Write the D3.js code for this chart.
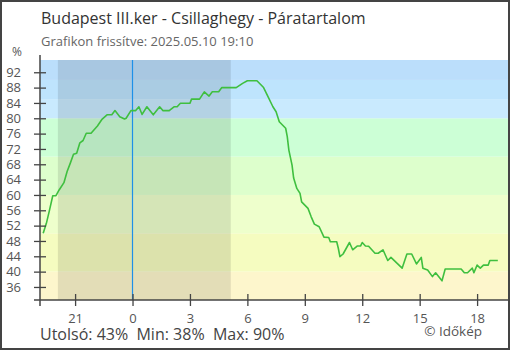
<!DOCTYPE html>
<html><head><meta charset="utf-8">
<script src="https://cdn.jsdelivr.net/npm/d3@7"></script>
<style>
html,body{margin:0;padding:0;background:#fff;}
svg{display:block;font-family:"Open Sans",sans-serif;}
</style></head>
<body><svg id="c" width="510" height="350"></svg>
<script>
const times = ["2025-05-09 19:20","2025-05-09 19:30","2025-05-09 19:40","2025-05-09 19:50","2025-05-09 20:00","2025-05-09 20:10","2025-05-09 20:25","2025-05-09 20:35","2025-05-09 20:45","2025-05-09 20:55","2025-05-09 21:05","2025-05-09 21:15","2025-05-09 21:25","2025-05-09 21:35","2025-05-09 21:50","2025-05-09 22:10","2025-05-09 22:25","2025-05-09 22:40","2025-05-09 22:55","2025-05-09 23:05","2025-05-09 23:20","2025-05-09 23:35","2025-05-09 23:40","2025-05-09 23:55",
"2025-05-10 00:10","2025-05-10 00:20","2025-05-10 00:30","2025-05-10 00:45","2025-05-10 01:05","2025-05-10 01:25","2025-05-10 01:35","2025-05-10 01:55","2025-05-10 02:10","2025-05-10 02:20","2025-05-10 02:30","2025-05-10 03:00","2025-05-10 03:05","2025-05-10 03:30","2025-05-10 03:45","2025-05-10 04:00","2025-05-10 04:10","2025-05-10 04:30","2025-05-10 04:40","2025-05-10 05:25","2025-05-10 05:45","2025-05-10 06:00","2025-05-10 06:30","2025-05-10 06:50","2025-05-10 07:05","2025-05-10 07:20","2025-05-10 07:30","2025-05-10 07:40","2025-05-10 08:00","2025-05-10 08:05","2025-05-10 08:10","2025-05-10 08:20","2025-05-10 08:25","2025-05-10 08:35","2025-05-10 08:45","2025-05-10 08:50","2025-05-10 09:10","2025-05-10 09:20","2025-05-10 09:30","2025-05-10 09:45","2025-05-10 10:00","2025-05-10 10:15","2025-05-10 10:20","2025-05-10 10:40","2025-05-10 10:45","2025-05-10 10:50","2025-05-10 11:00","2025-05-10 11:20","2025-05-10 11:30","2025-05-10 11:45","2025-05-10 11:55","2025-05-10 12:00","2025-05-10 12:10","2025-05-10 12:20","2025-05-10 12:40","2025-05-10 12:50","2025-05-10 13:05","2025-05-10 13:20","2025-05-10 13:30","2025-05-10 14:05","2025-05-10 14:20","2025-05-10 14:35","2025-05-10 14:50","2025-05-10 15:05","2025-05-10 15:10","2025-05-10 15:25","2025-05-10 15:40","2025-05-10 15:50","2025-05-10 16:10","2025-05-10 16:20","2025-05-10 17:10","2025-05-10 17:20","2025-05-10 17:30","2025-05-10 17:45","2025-05-10 17:50","2025-05-10 18:00","2025-05-10 18:10","2025-05-10 18:20","2025-05-10 18:35","2025-05-10 18:40","2025-05-10 19:05"];
const humidity = [50.0,52.6,56.1,59.8,59.8,61.3,63.2,66.1,68.3,70.6,70.9,73.6,74.2,76.1,76.1,78.0,79.8,80.9,80.9,82.0,80.4,79.8,80.0,82.0,
82.0,83.0,81.0,83.0,80.9,83.0,82.0,82.0,83.0,83.0,83.9,83.9,85.0,85.0,86.9,85.8,86.9,86.9,88.0,88.0,89.1,89.8,89.8,88.1,85.6,83.0,81.7,79.1,77.4,75.2,71.7,67.8,64.4,61.7,60.4,58.2,56.5,54.3,52.4,51.7,49.0,48.9,47.8,47.8,46.1,43.9,44.6,47.6,45.7,46.7,46.7,47.6,46.7,46.6,44.8,44.8,45.7,42.9,43.7,40.9,44.6,44.6,42.0,43.7,40.9,40.4,38.7,39.7,37.6,40.7,40.7,39.7,39.7,40.9,39.7,41.7,40.9,41.7,41.7,42.9,42.9];
const yTicks = [36,40,44,48,52,56,60,64,68,72,76,80,84,88,92];
const xTickTimes = ["2025-05-09 21:00","2025-05-10 00:00","2025-05-10 03:00","2025-05-10 06:00","2025-05-10 09:00","2025-05-10 12:00","2025-05-10 15:00","2025-05-10 18:00"];
const bandEdges = [32.6,40,50,60,70,80,85,90,95.2];
const bandColors = ["#fdf6cc","#f5fcc0","#eeffcc","#ddffcc","#ccffd6","#c9eafe","#bee4fd","#bbdefb"];
const nightSpan = ["2025-05-09 20:06","2025-05-10 05:08"];
const nowMark = "2025-05-10 00:00";
const xDomain = ["2025-05-09 19:10","2025-05-10 19:40"];
const title = "Budapest III.ker - Csillaghegy - Páratartalom";
const subtitle = "Grafikon frissítve: 2025.05.10 19:10";

const parse = d3.timeParse("%Y-%m-%d %H:%M");
const data = times.map((t,i)=>({t:parse(t), v:humidity[i]}));
const svg = d3.select("#c");
const L=40, R=509, T=60, B=300;
const x = d3.scaleTime().domain(xDomain.map(parse)).range([L,R]);
const y = d3.scaleLinear().domain([32.6,95.2]).range([B,T]);

// bands
svg.append("g").selectAll("rect").data(bandColors).join("rect")
  .attr("x",L).attr("width",R-L)
  .attr("y",(c,i)=>y(bandEdges[i+1])).attr("height",(c,i)=>y(bandEdges[i])-y(bandEdges[i+1]))
  .attr("fill",c=>c);
// night
svg.append("rect").attr("x",x(parse(nightSpan[0]))).attr("width",x(parse(nightSpan[1]))-x(parse(nightSpan[0])))
  .attr("y",T).attr("height",B-T).attr("fill","#000").attr("fill-opacity",0.1);
// midnight line
const mx0 = Math.round(x(parse(nowMark)))-0.5;
svg.append("line").attr("x1",mx0).attr("x2",mx0)
  .attr("y1",T).attr("y2",B).attr("stroke","#1e90e8").attr("stroke-width",1.2);

// line
svg.append("path").datum(data)
  .attr("d",d3.line().x(d=>x(d.t)).y(d=>y(d.v)))
  .attr("fill","none").attr("stroke","#3fbf3f").attr("stroke-width",1.6).attr("stroke-linejoin","round");

// axes
const axCol="#444";
const yAxis = svg.append("g").attr("transform",`translate(${L},0)`)
  .call(d3.axisLeft(y).tickValues(yTicks).tickSize(6).tickPadding(13));
yAxis.select(".domain").remove();
yAxis.selectAll(".tick line").attr("x1",-6).attr("x2",6).attr("stroke",axCol).attr("stroke-width",1.3);
yAxis.selectAll(".tick text").attr("fill","#555").style("font-size","13px").style("font-family","'Open Sans',sans-serif");
svg.append("line").attr("x1",L).attr("x2",L).attr("y1",55).attr("y2",306).attr("stroke",axCol).attr("stroke-width",1.5);

const xAxis = svg.append("g").attr("transform",`translate(0,${B})`)
  .call(d3.axisBottom(x).tickValues(xTickTimes.map(parse)).tickFormat(d=>String(d.getHours())).tickSize(6).tickPadding(8));
xAxis.select(".domain").remove();
xAxis.selectAll(".tick line").attr("y1",-6).attr("y2",6).attr("stroke",axCol).attr("stroke-width",1.3);
xAxis.selectAll(".tick text").attr("fill","#555").style("font-size","13px").style("font-family","'Open Sans',sans-serif");
svg.append("line").attr("x1",34).attr("x2",R).attr("y1",B).attr("y2",B).attr("stroke",axCol).attr("stroke-width",1.5);

// texts
svg.append("text").attr("x",41).attr("y",24).attr("fill","#333").style("font-size","16px").text(title);
svg.append("text").attr("x",41).attr("y",46).attr("fill","#666").style("font-size","13px").text(subtitle);
svg.append("text").attr("x",12).attr("y",56).attr("fill","#555").style("font-size","12px").text("%");
const last = Math.round(humidity[humidity.length-1]);
const mn = Math.round(d3.min(humidity)), mxv = Math.round(d3.max(humidity));
svg.append("text").attr("x",40).attr("y",340).attr("fill","#444").style("font-size","16px")
  .attr("xml:space","preserve").text(`Utolsó: ${last}%  Min: ${mn}%  Max: ${mxv}%`);
svg.append("text").attr("x",482).attr("y",336).attr("text-anchor","end").attr("fill","#555").style("font-size","13.5px").text("© Időkép");

// border
svg.append("rect").attr("x",1).attr("y",1).attr("width",508).attr("height",348).attr("fill","none").attr("stroke","#444").attr("stroke-width",2);
</script></body></html>
